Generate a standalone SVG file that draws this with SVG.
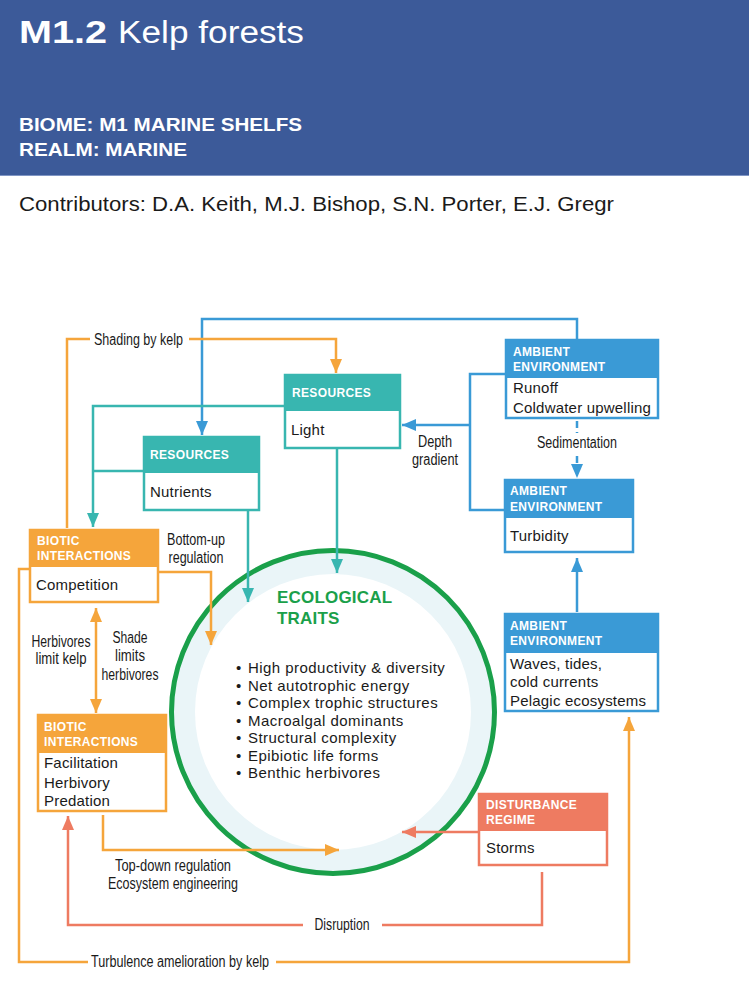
<svg xmlns="http://www.w3.org/2000/svg" width="749" height="981" viewBox="0 0 749 981">
<defs>
<style>
.hd{font-family:"Liberation Sans",Arial,sans-serif;font-weight:bold;font-size:12px;fill:#fff;letter-spacing:0.35px}
.bd{font-family:"Liberation Sans",Arial,sans-serif;font-size:15px;fill:#1a1a1a;letter-spacing:0.2px}
.bl{font-family:"Liberation Sans",Arial,sans-serif;font-size:15px;fill:#1a1a1a;letter-spacing:0.45px}
.lb{font-family:"Liberation Sans",Arial,sans-serif;font-size:16px;fill:#1a1a1a;text-anchor:middle}
.c{fill:none;stroke-width:2.5}
.tl{stroke:#38b6b0}.bu{stroke:#3a9ad6}.or{stroke:#f5a53b}.rd{stroke:#ee7b61}
</style>
<marker id="aT" markerUnits="userSpaceOnUse" markerWidth="14" markerHeight="12" refX="14" refY="6" orient="auto"><path d="M0,0 L14,6 L0,12 z" fill="#38b6b0"/></marker>
<marker id="aB" markerUnits="userSpaceOnUse" markerWidth="14" markerHeight="12" refX="14" refY="6" orient="auto"><path d="M0,0 L14,6 L0,12 z" fill="#3a9ad6"/></marker>
<marker id="aO" markerUnits="userSpaceOnUse" markerWidth="14" markerHeight="12" refX="14" refY="6" orient="auto-start-reverse"><path d="M0,0 L14,6 L0,12 z" fill="#f5a53b"/></marker>
<marker id="aR" markerUnits="userSpaceOnUse" markerWidth="14" markerHeight="12" refX="14" refY="6" orient="auto"><path d="M0,0 L14,6 L0,12 z" fill="#ee7b61"/></marker>
</defs>
<rect width="749" height="981" fill="#fff"/>
<g id="header">
<rect x="0" y="0" width="749" height="175" fill="#3c5a99"/>
<line x1="0" y1="175.5" x2="749" y2="175.5" stroke="#7f95c4" stroke-width="1"/>
<text x="19" y="43" font-family="Liberation Sans,Arial,sans-serif" font-size="31" fill="#fff"><tspan font-weight="bold" textLength="88" lengthAdjust="spacingAndGlyphs">M1.2</tspan><tspan x="118" textLength="186" lengthAdjust="spacingAndGlyphs">Kelp forests</tspan></text>
<text x="19" y="131" font-family="Liberation Sans,Arial,sans-serif" font-size="19" font-weight="bold" fill="#fff" textLength="283" lengthAdjust="spacingAndGlyphs">BIOME: M1 MARINE SHELFS</text>
<text x="19" y="156" font-family="Liberation Sans,Arial,sans-serif" font-size="19" font-weight="bold" fill="#fff" textLength="168" lengthAdjust="spacingAndGlyphs">REALM: MARINE</text>
<text x="19" y="211" font-family="Liberation Sans,Arial,sans-serif" font-size="20" fill="#1a1a1a" textLength="595" lengthAdjust="spacingAndGlyphs">Contributors: D.A. Keith, M.J. Bishop, S.N. Porter, E.J. Gregr</text>
</g>
<g id="traits">
<circle cx="333" cy="712" r="160" fill="#eaf5f8"/>
<circle cx="333" cy="712" r="138" fill="#fff"/>
<circle cx="333" cy="712" r="161.5" fill="none" stroke="#1aa04a" stroke-width="5"/>
<text x="277" y="603" font-family="Liberation Sans,Arial,sans-serif" font-size="17" font-weight="bold" fill="#1aa04a" letter-spacing="0.2">ECOLOGICAL</text>
<text x="277" y="624" font-family="Liberation Sans,Arial,sans-serif" font-size="17" font-weight="bold" fill="#1aa04a" letter-spacing="0.2">TRAITS</text>
<g class="bl">
<text x="236" y="673">•</text><text x="248" y="673">High productivity &amp; diversity</text>
<text x="236" y="691">•</text><text x="248" y="691">Net autotrophic energy</text>
<text x="236" y="708">•</text><text x="248" y="708">Complex trophic structures</text>
<text x="236" y="726">•</text><text x="248" y="726">Macroalgal dominants</text>
<text x="236" y="743">•</text><text x="248" y="743">Structural complexity</text>
<text x="236" y="761">•</text><text x="248" y="761">Epibiotic life forms</text>
<text x="236" y="778">•</text><text x="248" y="778">Benthic herbivores</text>
</g>
</g>
<g id="connectors">
<path class="c bu" d="M577,339 V319 H202 V435" marker-end="url(#aB)"/>
<path class="c bu" d="M505,374 H470 V510 H504"/>
<path class="c bu" d="M470,425 H402" marker-end="url(#aB)"/>
<path class="c bu" d="M577,421 V433 M577,456 V478" stroke-dasharray="7,4" marker-end="url(#aB)"/>
<path class="c bu" d="M577,612 V558" marker-end="url(#aB)"/>
<path class="c tl" d="M284,406 H93 V527" marker-end="url(#aT)"/>
<path class="c tl" d="M143,471 H93"/>
<path class="c tl" d="M248,511 V602" marker-end="url(#aT)"/>
<path class="c tl" d="M337,449 V573" marker-end="url(#aT)"/>
<path class="c or" d="M67,528 V339 H90 M189,339 H336 V373" marker-end="url(#aO)"/>
<path class="c or" d="M159,572 H211 V645" marker-end="url(#aO)"/>
<path class="c or" d="M29,569 H19 V962 H88 M276,962 H629 V717" marker-end="url(#aO)"/>
<path class="c or" d="M96,608 V713" marker-start="url(#aO)" marker-end="url(#aO)"/>
<path class="c or" d="M103,815 V850 H339" marker-end="url(#aO)"/>
<path class="c rd" d="M478,832 H402" marker-end="url(#aR)"/>
<path class="c rd" d="M542,872 V925 H382 M303,925 H68 V816" marker-end="url(#aR)"/>
<text class="lb" x="138.5" y="345" textLength="89" lengthAdjust="spacingAndGlyphs">Shading by kelp</text>
<text class="lb" x="196" y="545" textLength="58" lengthAdjust="spacingAndGlyphs">Bottom-up</text>
<text class="lb" x="196" y="563" textLength="55" lengthAdjust="spacingAndGlyphs">regulation</text>
<text class="lb" x="61" y="647" textLength="59" lengthAdjust="spacingAndGlyphs">Herbivores</text>
<text class="lb" x="61" y="664" textLength="51" lengthAdjust="spacingAndGlyphs">limit kelp</text>
<text class="lb" x="130" y="643" textLength="35" lengthAdjust="spacingAndGlyphs">Shade</text>
<text class="lb" x="130" y="661" textLength="30" lengthAdjust="spacingAndGlyphs">limits</text>
<text class="lb" x="130" y="680" textLength="57" lengthAdjust="spacingAndGlyphs">herbivores</text>
<text class="lb" x="173" y="871" textLength="116" lengthAdjust="spacingAndGlyphs">Top-down regulation</text>
<text class="lb" x="173" y="889" textLength="130" lengthAdjust="spacingAndGlyphs">Ecosystem engineering</text>
<text class="lb" x="342" y="930" textLength="55" lengthAdjust="spacingAndGlyphs">Disruption</text>
<text class="lb" x="180" y="967" textLength="178" lengthAdjust="spacingAndGlyphs">Turbulence amelioration by kelp</text>
<text class="lb" x="435" y="447" textLength="34" lengthAdjust="spacingAndGlyphs">Depth</text>
<text class="lb" x="435" y="465" textLength="46" lengthAdjust="spacingAndGlyphs">gradient</text>
<text class="lb" x="577" y="448" textLength="80" lengthAdjust="spacingAndGlyphs">Sedimentation</text>
</g>
<g id="light">
<rect x="285" y="375" width="115" height="73" fill="#fff" stroke="#38b6b0" stroke-width="2.5"/>
<rect x="285" y="375" width="115" height="36" fill="#38b6b0"/>
<text class="hd" x="292" y="397">RESOURCES</text>
<text class="bd" x="291" y="435">Light</text>
</g>
<g id="nutrients">
<rect x="144" y="437" width="115" height="73" fill="#fff" stroke="#38b6b0" stroke-width="2.5"/>
<rect x="144" y="437" width="115" height="36" fill="#38b6b0"/>
<text class="hd" x="150" y="459">RESOURCES</text>
<text class="bd" x="150" y="497">Nutrients</text>
</g>
<g id="competition">
<rect x="30" y="530" width="128" height="72" fill="#fff" stroke="#f5a53b" stroke-width="2.5"/>
<rect x="30" y="530" width="128" height="37" fill="#f5a53b"/>
<text class="hd" x="37" y="545">BIOTIC</text>
<text class="hd" x="37" y="560">INTERACTIONS</text>
<text class="bd" x="36" y="590">Competition</text>
</g>
<g id="facilitation">
<rect x="38" y="715" width="128" height="96" fill="#fff" stroke="#f5a53b" stroke-width="2.5"/>
<rect x="38" y="715" width="128" height="38" fill="#f5a53b"/>
<text class="hd" x="44" y="731">BIOTIC</text>
<text class="hd" x="44" y="746">INTERACTIONS</text>
<text class="bd" x="44" y="768">Facilitation</text>
<text class="bd" x="44" y="788">Herbivory</text>
<text class="bd" x="44" y="806">Predation</text>
</g>
<g id="ambient-runoff">
<rect x="506" y="340" width="152" height="78" fill="#fff" stroke="#3a9ad6" stroke-width="2.5"/>
<rect x="506" y="340" width="152" height="38" fill="#3a9ad6"/>
<text class="hd" x="513" y="356">AMBIENT</text>
<text class="hd" x="513" y="371">ENVIRONMENT</text>
<text class="bd" x="513" y="393">Runoff</text>
<text class="bd" x="513" y="413">Coldwater upwelling</text>
</g>
<g id="ambient-turbidity">
<rect x="505" y="480" width="128" height="72" fill="#fff" stroke="#3a9ad6" stroke-width="2.5"/>
<rect x="505" y="480" width="128" height="38" fill="#3a9ad6"/>
<text class="hd" x="510" y="495">AMBIENT</text>
<text class="hd" x="510" y="511">ENVIRONMENT</text>
<text class="bd" x="510" y="541">Turbidity</text>
</g>
<g id="ambient-waves">
<rect x="505" y="614" width="153" height="97" fill="#fff" stroke="#3a9ad6" stroke-width="2.5"/>
<rect x="505" y="614" width="153" height="39" fill="#3a9ad6"/>
<text class="hd" x="510" y="630">AMBIENT</text>
<text class="hd" x="510" y="645">ENVIRONMENT</text>
<text class="bd" x="510" y="669">Waves, tides,</text>
<text class="bd" x="510" y="687">cold currents</text>
<text class="bd" x="510" y="706">Pelagic ecosystems</text>
</g>
<g id="disturbance">
<rect x="479" y="794" width="128" height="71" fill="#fff" stroke="#ee7b61" stroke-width="2.5"/>
<rect x="479" y="794" width="128" height="37" fill="#ee7b61"/>
<text class="hd" x="486" y="809">DISTURBANCE</text>
<text class="hd" x="486" y="824">REGIME</text>
<text class="bd" x="486" y="853">Storms</text>
</g>
</svg>
